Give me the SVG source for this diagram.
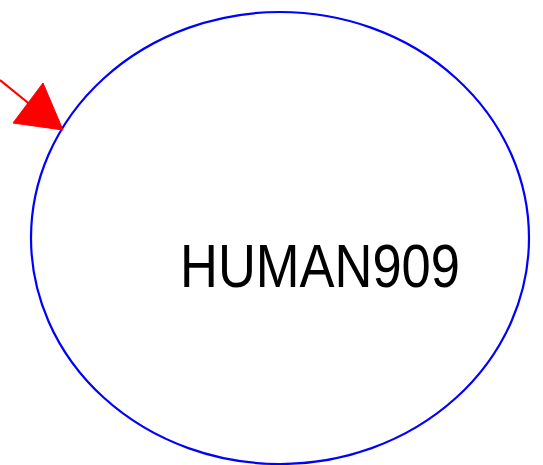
<svg xmlns="http://www.w3.org/2000/svg" width="543" height="465" viewBox="0 0 543 465">
<style>
.node ellipse{fill:none;stroke:#0000ff;stroke-width:2.2}
.node text{font-family:"Liberation Sans",Arial,sans-serif;font-size:61px;fill:#000}
.edge line{stroke:#ff0000;stroke-width:2.2}
.edge polygon{fill:#ff0000;stroke:#ff0000}
</style>
<rect width="543" height="465" fill="#fff"/>
<g id="HUMAN909" class="node">
<ellipse cx="280" cy="238" rx="249" ry="226"/>
<text x="180" y="287" textLength="280" lengthAdjust="spacingAndGlyphs">HUMAN909</text>
</g>
<g id="edges" class="edge">
<line x1="0" y1="80" x2="32" y2="106"/>
<polygon points="43,83 13,123 63,130"/>
</g>
</svg>
